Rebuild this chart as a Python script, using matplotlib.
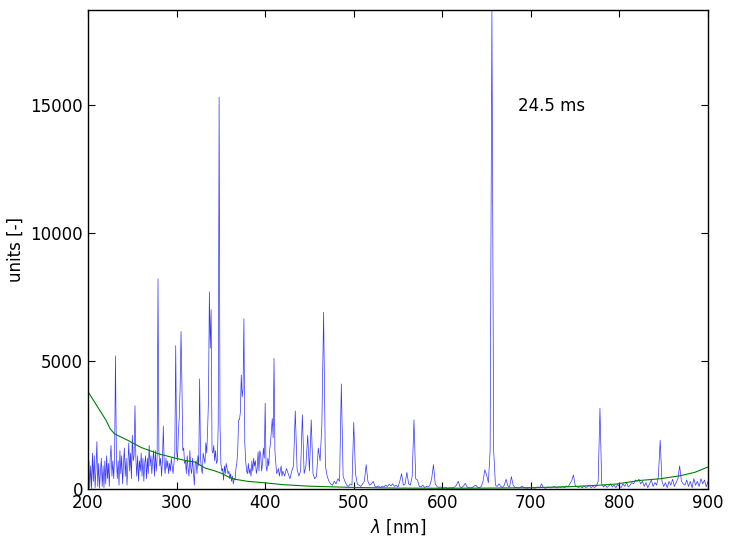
import numpy as np
import matplotlib
matplotlib.use('Agg')
import matplotlib.pyplot as plt

# spectrum, 200-419 nm in 1 nm steps
wl_uv = np.arange(200, 420, 1)
counts_uv = [
    300, 1100, 50, 900, 20, 1400, 300, 1300, 50, 800,
    1850, 100, 1000, 30, 700, 1200, 100, 900, 50, 1100,
    200, 1300, 400, 1000, 100, 1200, 1700, 500, 1100, 400,
    1300, 5200, 1300, 400, 1100, 150, 1500, 600, 1300, 200,
    1000, 1600, 500, 1200, 150, 1000, 1800, 700, 1400, 400,
    2100, 1100, 1300, 3250, 1200, 500, 1300, 300, 1100, 700,
    1400, 500, 1200, 300, 1000, 1300, 400, 1200, 600, 1700,
    900, 1300, 600, 1100, 1500, 500, 1500, 700, 1200, 8200,
    1500, 900, 1200, 500, 1100, 2450, 1000, 600, 1200, 800,
    1100, 600, 1000, 700, 1200, 900, 600, 1000, 1400, 5600,
    1500, 1100, 2200, 2800, 4000, 6150, 4100, 1500, 1600, 1000,
    1100, 600, 1300, 800, 500, 1500, 800, 600, 1200, 700,
    150, 1000, 1100, 600, 1300, 900, 4300, 1200, 800, 600,
    1400, 1200, 1000, 1800, 1400, 2300, 3500, 7700, 5500, 7000,
    1500, 1400, 1700, 1100, 1500, 1000, 1100, 2500, 15300, 2500,
    1000, 700, 800, 350, 900, 600, 1000, 800, 600, 700,
    400, 600, 300, 500, 200, 400, 350, 800, 1000, 1500,
    2700, 2700, 3000, 4450, 3600, 3900, 6650, 1800, 1100, 700,
    600, 1000, 600, 800, 500, 1100, 700, 1200, 900, 1100,
    600, 800, 1450, 700, 1500, 1300, 700, 1000, 1600, 1200,
    3350, 900, 700, 1200, 900, 1500, 1800, 2300, 2750, 2000,
    5100, 1500, 1000, 600, 700, 800, 500, 700, 900, 500,
]

# spectrum, 420-900 nm in 2 nm steps
wl_vis = np.arange(420, 901, 2)
counts_vis = [
    700, 500, 800, 600, 400, 700, 900, 3050, 800, 500,
    700, 2900, 600, 900, 2100, 700, 2700, 600, 400, 500,
    1600, 1100, 2500, 6900, 900, 500, 300, 200, 150, 300,
    200, 400, 300, 4100, 500, 300, 150, 100, 200, 150,
    2600, 600, 200, 150, 100, 200, 300, 950, 300, 150,
    200, 300, 100, 80, 120, 60, 100, 80, 150, 100,
    180, 120, 200, 100, 150, 80, 300, 600, 150, 200,
    650, 200, 150, 500, 2700, 400, 350, 100, 80, 150,
    60, 100, 80, 150, 400, 950, 200, 100, 60, 80,
    50, 40, 60, 30, 50, 40, 60, 80, 150, 300,
    80, 60, 120, 220, 80, 50, 40, 60, 120, 150,
    60, 50, 100, 300, 750, 550, 250, 1500, 18700, 1500,
    150, 100, 200, 100, 60, 150, 380, 120, 80, 480,
    150, 60, 50, 40, 60, 120, 50, 40, 30, 50,
    40, 60, 30, 50, 80, 40, 200, 60, 30, 50,
    80, 40, 60, 100, 50, 40, 80, 60, 100, 50,
    120, 80, 200, 320, 550, 150, 80, 60, 100, 40,
    120, 60, 80, 150, 50, 100, 60, 120, 300, 3150,
    200, 80, 150, 60, 120, 200, 80, 150, 50, 180,
    100, 60, 200, 100, 250, 80, 150, 250, 200, 350,
    300, 380, 200, 300, 100, 250, 50, 200, 350, 100,
    250, 150, 500, 1900, 300, 100, 250, 50, 300, 150,
    380, 100, 250, 400, 900, 300, 200, 150, 350, 100,
    300, 50, 400, 150, 300, 100, 400, 200, 350, 80,
    300,
]

# background / reference curve
bg_wl = [200, 210, 220, 225, 230, 245, 260, 280, 298, 310, 321, 332, 342, 351,
         358, 366, 380, 400, 420, 450, 500, 550, 600, 650, 700, 744, 778, 797,
         822, 846, 869, 885, 900]
bg_val = [3800, 3250, 2700, 2350, 2150, 1900, 1620, 1370, 1210, 1110, 1050, 820,
          720, 610, 480, 380, 300, 240, 170, 110, 60, 35, 30, 35, 50, 90, 150, 195,
          330, 400, 520, 650, 860]

wl = np.concatenate([wl_uv, wl_vis])
counts = np.concatenate([counts_uv, counts_vis])

fig = plt.figure(figsize=(7.33, 5.46), dpi=100)
ax = fig.add_axes([0.1201, 0.1044, 0.8458, 0.8773])

ax.plot(wl, counts, color='b', linewidth=0.5, alpha=0.8)
ax.plot(bg_wl, bg_val, color='g', linewidth=0.8)

ax.set_xlim(200, 900)
ax.set_ylim(0, counts.max())
ax.set_xticks(range(200, 901, 100))
ax.set_yticks([0, 5000, 10000, 15000])
ax.tick_params(direction='in', top=True, right=True, labelsize=12, length=5)
for s in ax.spines.values():
    s.set_linewidth(1.0)

ax.set_xlabel(r'$\lambda$ [nm]', fontsize=12)
ax.set_ylabel('units [-]', fontsize=12)
ax.text(685, 14950, '24.5 ms', fontsize=12, va='center')

fig.savefig('out.png', dpi=100)
